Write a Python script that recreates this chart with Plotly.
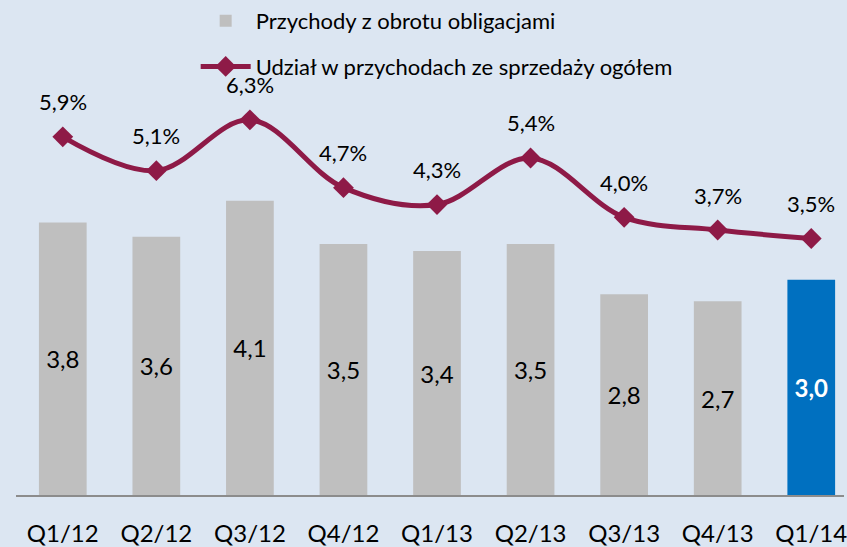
import plotly.graph_objects as go

categories = ["Q1/12", "Q2/12", "Q3/12", "Q4/12", "Q1/13", "Q2/13", "Q3/13", "Q4/13", "Q1/14"]
revenue = [3.8, 3.6, 4.1, 3.5, 3.4, 3.5, 2.8, 2.7, 3.0]
share_pct = [5.9, 5.1, 6.3, 4.7, 4.3, 5.4, 4.0, 3.7, 3.5]
share_labels = ["5,9%", "5,1%", "6,3%", "4,7%", "4,3%", "5,4%", "4,0%", "3,7%", "3,5%"]

bar_colors = ["#BFBFBF"] * 8 + ["#0070C0"]
bar_text_colors = ["#000000"] * 8 + ["#FFFFFF"]
bar_templates = ["%{y:.1f}"] * 8 + ["<b>%{y:.1f}</b>"]

FONT = "Lato, 'Open Sans', sans-serif"
LINE_COLOR = "#8E1A47"
BG = "#DCE6F2"

fig = go.Figure()
fig.add_trace(go.Bar(
    x=categories, y=revenue, name="Przychody z obrotu obligacjami",
    marker=dict(color=bar_colors, line=dict(width=0)),
    width=0.51,
    texttemplate=bar_templates, textposition="inside", insidetextanchor="middle",
    textangle=0, constraintext="none",
    textfont=dict(size=24, color=bar_text_colors, family=FONT),
    legendgroup="a",
))
fig.add_trace(go.Scatter(
    x=categories, y=share_pct, name="Udział w przychodach ze sprzedaży ogółem",
    mode="lines+markers", yaxis="y2",
    line=dict(color=LINE_COLOR, width=5, shape="spline", smoothing=1.0),
    marker=dict(symbol="diamond", size=16, color=LINE_COLOR),
    legendgroup="b",
))

for c, v, t in zip(categories, share_pct, share_labels):
    fig.add_annotation(x=c, y=v, yref="y2", text=t, showarrow=False,
                       yshift=35, font=dict(size=22, color="#000000", family=FONT))

fig.update_layout(
    width=847, height=547,
    margin=dict(l=16, r=0, t=0, b=47),
    paper_bgcolor=BG, plot_bgcolor=BG,
    separators=", ",
    font=dict(family=FONT, color="#000000"),
    showlegend=True,
    legend=dict(
        x=0.217, y=1.0, xanchor="left", yanchor="top",
        bgcolor="rgba(0,0,0,0)", font=dict(size=22, family=FONT),
        tracegroupgap=14, itemwidth=50, traceorder="grouped",
    ),
    bargap=0.49,
    xaxis=dict(
        range=[-0.5, 8.35], showgrid=False, zeroline=False,
        showline=True, linecolor="#8C8C8C", linewidth=2,
        ticks="", tickangle=0, tickfont=dict(size=24, family=FONT, color="#000000"),
        ticklabelstandoff=16,
    ),
    yaxis=dict(range=[0, 6.9], visible=False, showgrid=False, zeroline=False),
    yaxis2=dict(range=[-2.554, 9.129], visible=False, overlaying="y",
                showgrid=False, zeroline=False),
)

fig.write_html(
    "out.html",
    config={"displayModeBar": False},
    post_script="document.body.style.margin='0';document.body.style.overflow='hidden';",
)
